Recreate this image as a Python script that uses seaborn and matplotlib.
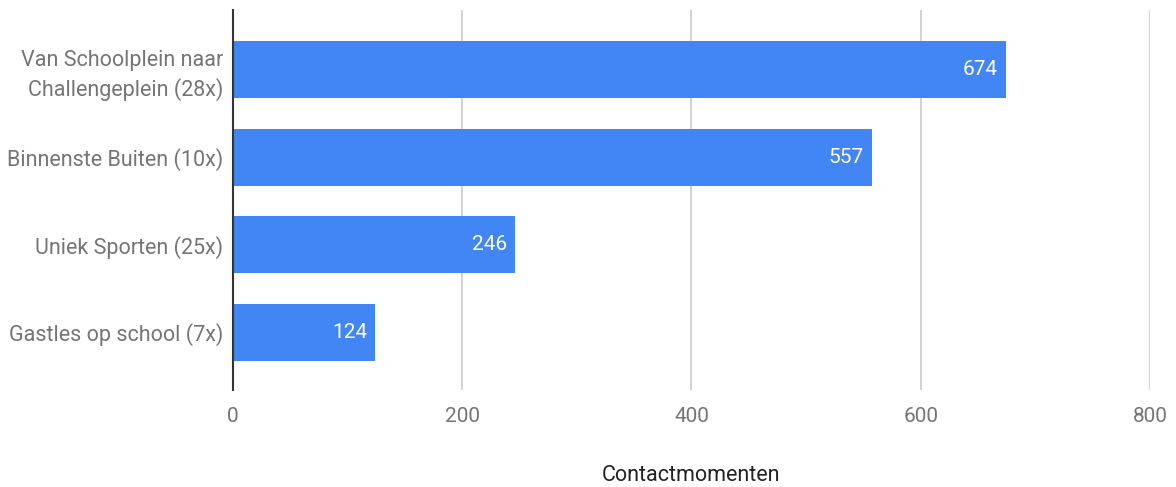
import matplotlib
matplotlib.use("Agg")
import matplotlib.pyplot as plt
import seaborn as sns
import pandas as pd

# data
categories = ["Van Schoolplein naar\nChallengeplein (28x)", "Binnenste Buiten (10x)",
              "Uniek Sporten (25x)", "Gastles op school (7x)"]
values = [674, 557, 246, 124]
x_ticks = [0, 200, 400, 600, 800]

df = pd.DataFrame({"activiteit": categories, "contact": values})

sns.set_style("white")
plt.rcParams["font.family"] = ["Roboto", "DejaVu Sans"]

fig = plt.figure(figsize=(11.76, 4.87), dpi=100)
ax = fig.add_axes([0.198, 0.199, 0.78, 0.78])

sns.barplot(data=df, y="activiteit", x="contact", color="#4285f4", saturation=1,
            width=0.65, orient="h", ax=ax, edgecolor="none")

for bar, v in zip(ax.patches, values):
    ax.text(bar.get_width() - 7, bar.get_y() + bar.get_height() / 2, str(v),
            ha="right", va="center", color="white", fontsize=15)

ax.set_xlim(0, 800)
ax.set_ylim(3.66, -0.68)
ax.set_xticks(x_ticks)
ax.set_xticklabels([str(t) for t in x_ticks])
ax.grid(axis="x", color="#cccccc", linewidth=1.2)
ax.set_axisbelow(True)
for s in ["top", "right", "bottom"]:
    ax.spines[s].set_visible(False)
ax.spines["left"].set_color("#333333")
ax.spines["left"].set_linewidth(1.5)
ax.spines["left"].set_zorder(5)
ax.tick_params(axis="both", length=0, labelsize=15, labelcolor="#757575")
ax.tick_params(axis="x", pad=12)
ax.tick_params(axis="y", pad=7, labelsize=15.5)
for lbl in ax.get_yticklabels():
    lbl.set_linespacing(1.35)
ax.set_ylabel("")
ax.set_xlabel("Contactmomenten", fontsize=15.5, color="#222222", labelpad=28)

fig.savefig("out.png", dpi=100)
